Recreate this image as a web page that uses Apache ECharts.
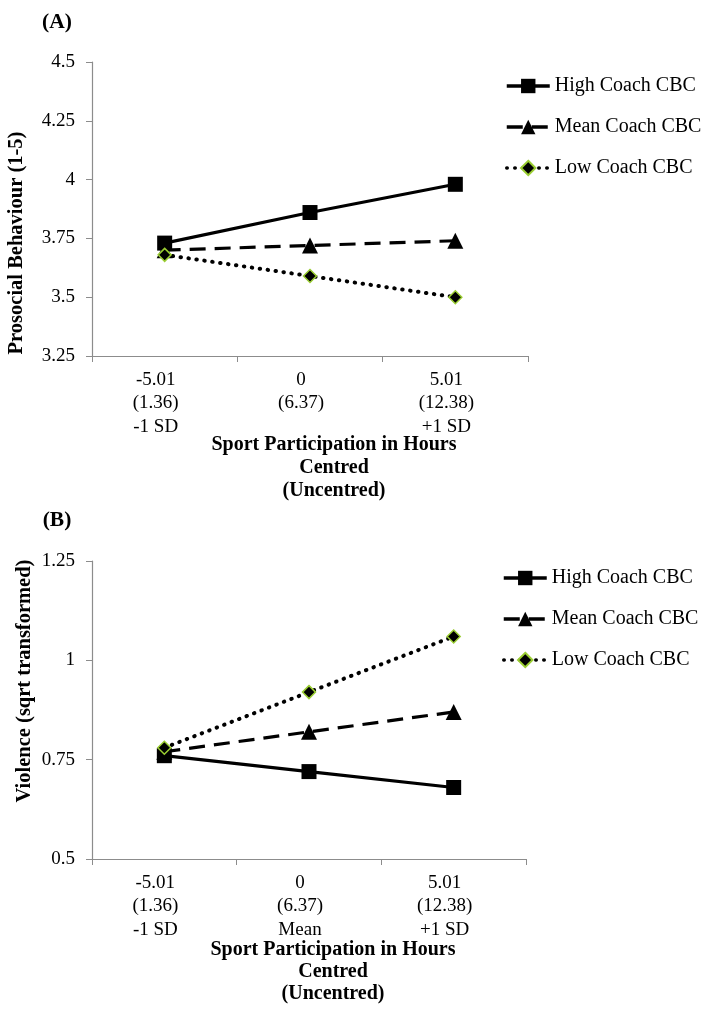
<!DOCTYPE html>
<html>
<head>
<meta charset="utf-8">
<script src="https://cdn.jsdelivr.net/npm/echarts@6/dist/echarts.min.js"></script>
<style>
  html, body { margin: 0; padding: 0; background: #fff; }
  #chart { width: 709px; height: 1021px; }
</style>
</head>
<body>
<div id="chart"></div>
<script>
// categories (x axis) for the two panels
const categoriesA = ['-5.01\n(1.36)\n-1 SD', '0\n(6.37)', '5.01\n(12.38)\n+1 SD'];
const categoriesB = ['-5.01\n(1.36)\n-1 SD', '0\n(6.37)\nMean', '5.01\n(12.38)\n+1 SD'];

const seriesNames = ['High Coach CBC', 'Mean Coach CBC', 'Low Coach CBC'];

// (A) Prosocial behaviour
const prosocialHigh = [3.73, 3.86, 3.98];
const prosocialMean = [3.70, 3.72, 3.74];
const prosocialLow = [3.68, 3.59, 3.50];

// (B) Violence (sqrt transformed)
const violenceHigh = [0.76, 0.72, 0.68];
const violenceMean = [0.77, 0.82, 0.87];
const violenceLow = [0.78, 0.92, 1.06];

const serif = 'Liberation Serif';

const chart = echarts.init(document.getElementById('chart'));

// line / marker styles per series (same in both panels)
const styles = [
    { symbol: 'rect', symbolSize: 15, lineStyle: { color: '#000', width: 3.2, type: 'solid' },
      itemStyle: { color: '#000' } },
    { symbol: 'triangle', symbolSize: 16, lineStyle: { color: '#000', width: 3.2, type: [16, 9] },
      itemStyle: { color: '#000' } },
    { symbol: 'diamond', symbolSize: 13, lineStyle: { color: '#000', width: 4, type: [0.5, 7.5], cap: 'round' },
      itemStyle: { color: '#000', borderColor: '#9ACD32', borderWidth: 1.5 } }
];

const makeSeries = (data, idx) => data.map((d, i) => ({
    name: seriesNames[i],
    type: 'line',
    xAxisIndex: idx,
    yAxisIndex: idx,
    data: d,
    symbol: styles[i].symbol,
    symbolSize: styles[i].symbolSize,
    lineStyle: styles[i].lineStyle,
    itemStyle: styles[i].itemStyle,
    emphasis: { disabled: true },
    animation: false
}));

const xAxisBase = (cats) => ({
    type: 'category',
    data: cats,
    boundaryGap: true,
    axisLine: { lineStyle: { color: '#8c8c8c', width: 1.2 } },
    axisTick: { show: true, length: 6, lineStyle: { color: '#8c8c8c' } },
    axisLabel: {
        color: '#000', fontFamily: serif, fontSize: 19, lineHeight: 23.5,
        margin: 12, padding: [0, 18, 0, 0], interval: 0
    }
});

const yAxisBase = (min, max) => ({
    type: 'value',
    min: min,
    max: max,
    interval: 0.25,
    axisLine: { show: true, lineStyle: { color: '#8c8c8c', width: 1.2 } },
    axisTick: { show: true, length: 6, lineStyle: { color: '#8c8c8c' } },
    axisLabel: { color: '#000', fontFamily: serif, fontSize: 19, margin: 17 },
    splitLine: { show: false }
});

const legendBase = (left, top) => ({
    orient: 'vertical',
    left: left,
    top: top,
    padding: 0,
    itemWidth: 43,
    itemHeight: 18,
    itemGap: 21,
    selectedMode: false,
    data: seriesNames,
    lineStyle: { width: 3.5 },
    textStyle: { color: '#000', fontFamily: serif, fontSize: 20 }
});

const boldText = (text, x, y, size, lineHeight) => ({
    type: 'text',
    x: x,
    y: y,
    style: {
        text: text,
        fill: '#000',
        font: 'bold ' + size + 'px "Liberation Serif"',
        textAlign: 'center',
        textVerticalAlign: 'top',
        lineHeight: lineHeight
    }
});

const rotatedText = (text, x, y) => ({
    type: 'text', x: x, y: y, rotation: Math.PI / 2,
    style: { text: text, fill: '#000', font: 'bold 20.5px "Liberation Serif"',
             textAlign: 'center', textVerticalAlign: 'middle' }
});

const option = {
    backgroundColor: '#fff',
    animation: false,
    grid: [
        { left: 92, top: 62, width: 436, height: 294, containLabel: false },
        { left: 92, top: 561, width: 434, height: 298, containLabel: false }
    ],
    xAxis: [
        Object.assign(xAxisBase(categoriesA), { gridIndex: 0 }),
        Object.assign(xAxisBase(categoriesB), { gridIndex: 1 })
    ],
    yAxis: [
        Object.assign(yAxisBase(3.25, 4.5), { gridIndex: 0 }),
        Object.assign(yAxisBase(0.5, 1.25), { gridIndex: 1 })
    ],
    legend: [legendBase(505, 76), legendBase(502, 568)],
    graphic: [
        boldText('(A)', 57, 10, 21.5, 24),
        boldText('(B)', 57, 508, 21.5, 24),
        boldText('Sport Participation in Hours\nCentred\n(Uncentred)', 334, 433, 20, 23),
        boldText('Sport Participation in Hours\nCentred\n(Uncentred)', 333, 939, 20, 22),
        rotatedText('Prosocial Behaviour (1-5)', 17, 243),
        rotatedText('Violence (sqrt transformed)', 25, 681)
    ],
    series: [
        ...makeSeries([prosocialHigh, prosocialMean, prosocialLow], 0),
        ...makeSeries([violenceHigh, violenceMean, violenceLow], 1)
    ]
};

chart.setOption(option);
</script>
</body>
</html>
